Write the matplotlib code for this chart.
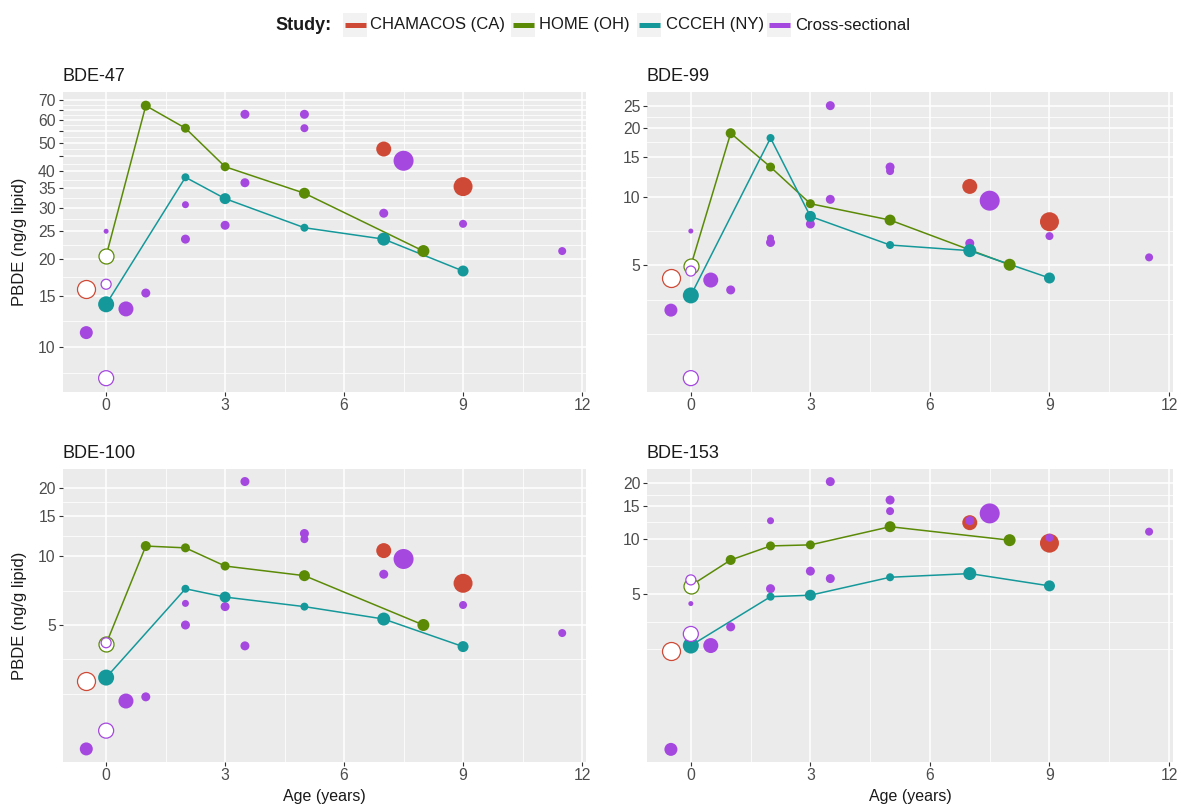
import numpy as np
import matplotlib
matplotlib.use("Agg")
import matplotlib.pyplot as plt
from matplotlib.patches import Rectangle
from matplotlib.lines import Line2D
from matplotlib.ticker import NullFormatter, FixedLocator

plt.rcParams['font.family'] = ['Liberation Sans', 'DejaVu Sans']

# ---------------- data ----------------
congeners = ["BDE-47", "BDE-99", "BDE-100", "BDE-153"]
studies = ["CHAMACOS (CA)", "HOME (OH)", "CCCEH (NY)", "Cross-sectional"]

# CHAMACOS (CA)
cham_age = [-0.5, 7, 9]
cham_open = [True, False, False]
cham_size = [18, 15, 19]
cham_vals = {
    "BDE-47": [15.8, 47.6, 35.4],
    "BDE-99": [4.40, 11.1, 7.77],
    "BDE-100": [2.85, 10.6, 7.62],
    "BDE-153": [2.44, 12.2, 9.44],
}

# HOME (OH)
home_age = [0, 1, 2, 3, 5, 8]
home_open = [True, False, False, False, False, False]
home_size = [15, 10, 9, 9, 11, 12]
home_vals = {
    "BDE-47": [20.5, 67.0, 56.1, 41.4, 33.6, 21.3],
    "BDE-99": [4.98, 19.0, 13.5, 9.32, 7.90, 5.03],
    "BDE-100": [4.13, 11.1, 10.9, 9.07, 8.23, 5.0],
    "BDE-153": [5.55, 7.65, 9.12, 9.24, 11.6, 9.80],
}

# CCCEH (NY)
ccceh_age = [0, 2, 3, 5, 7, 9]
ccceh_open = [False, False, False, False, False, False]
ccceh_size = [16, 8, 11, 8, 13, 11]
ccceh_vals = {
    "BDE-47": [14.0, 38.1, 32.2, 25.6, 23.4, 18.2],
    "BDE-99": [3.69, 18.1, 8.20, 6.14, 5.80, 4.40],
    "BDE-100": [2.94, 7.21, 6.63, 6.02, 5.31, 4.02],
    "BDE-153": [2.62, 4.83, 4.92, 6.16, 6.45, 5.53],
}

# Cross-sectional
cs_age = [-0.5, 0, 0, 0, 0.5, 1, 2, 2, 3, 3.5, 3.5, 5, 5, 7, 7.5, 9, 11.5]
cs_open = [False, True, True, False, False, False, False, False, False,
           False, False, False, False, False, False, False, False]
cs_size = [13, 10, 15, 5, 15, 9, 7, 9, 9, 9, 9, 9, 8, 9, 20, 8, 8]
cs_vals = {
    "BDE-47": [11.2, 16.4, 7.82, 24.9, 13.5, 15.3, 30.7, 23.4, 26.1,
               62.6, 36.5, 62.6, 56.1, 28.7, 43.4, 26.4, 21.3],
    "BDE-99": [3.18, 4.72, 1.60, 7.07, 4.31, 3.90, 6.59, 6.30, 7.59,
               25.1, 9.74, 13.5, 12.96, 6.25, 9.61, 6.72, 5.42],
    "BDE-100": [1.43, 4.18, 1.72, np.nan, 2.32, 2.42, 6.22, 5.0, 6.02,
                21.3, 4.05, 12.6, 11.9, 8.35, 9.74, 6.12, 4.61],
    "BDE-153": [0.714, 5.96, 3.03, 4.43, 2.62, 3.31, 12.5, 5.34, 6.65,
                20.4, 6.06, 16.2, 14.1, 12.5, 13.7, 10.1, 10.9],
}

# axis breaks
x_breaks = [0, 3, 6, 9, 12]
y_breaks = {
    "BDE-47": [10, 15, 20, 25, 30, 35, 40, 45, 50, 55, 60, 65, 70],
    "BDE-99": [5, 10, 15, 20, 25],
    "BDE-100": [5, 10, 15, 20],
    "BDE-153": [5, 10, 15, 20],
}
y_labels = {
    "BDE-47": ["10", "15", "20", "25", "30", "35", "40", "", "50", "", "60", "", "70"],
    "BDE-99": ["5", "10", "15", "20", "25"],
    "BDE-100": ["5", "10", "15", "20"],
    "BDE-153": ["5", "10", "15", "20"],
}
y_limits = {
    "BDE-47": (7.03, 74.8),
    "BDE-99": (1.395, 28.9),
    "BDE-100": (1.257, 24.1),
    "BDE-153": (0.612, 23.8),
}

# ---------------- style ----------------
col = {"CHAMACOS (CA)": "#CF4A36", "HOME (OH)": "#5B8A06",
       "CCCEH (NY)": "#15989A", "Cross-sectional": "#A548DF"}

W, H = 1181, 806
DPI = 100
fig = plt.figure(figsize=(W / DPI, H / DPI), dpi=DPI, facecolor="white")

def fx(x):
    return x / W

def fy(y):
    return 1 - y / H

panel_px = {
    "BDE-47": (62.5, 586, 91.7, 391.7),
    "BDE-99": (647, 1173, 91.7, 391.7),
    "BDE-100": (62.5, 586, 469.3, 761.7),
    "BDE-153": (647, 1173, 469.3, 761.7),
}

def minor_breaks_log(breaks, lo, hi):
    b = list(np.log10(breaks))
    bd = b[1] - b[0]
    if np.log10(lo) < b[0]:
        b = [b[0] - bd] + b
    if np.log10(hi) > b[-1]:
        b = b + [b[-1] + bd]
    out = []
    for a, c in zip(b[:-1], b[1:]):
        out += [a, (a + c) / 2]
    out.append(b[-1])
    return [10 ** v for v in out]

def sz(d):
    return (d * 72.0 / DPI) ** 2

series = [
    ("CHAMACOS (CA)", cham_age, cham_open, cham_size, cham_vals, False),
    ("Cross-sectional", cs_age, cs_open, cs_size, cs_vals, False),
    ("HOME (OH)", home_age, home_open, home_size, home_vals, True),
    ("CCCEH (NY)", ccceh_age, ccceh_open, ccceh_size, ccceh_vals, True),
]
open_order = [series[0], series[2], series[3], series[1]]

for cg in congeners:
    l, r, t, b = panel_px[cg]
    ax = fig.add_axes([fx(l), fy(b), (r - l) / W, (b - t) / H])
    ax.set_facecolor("#EBEBEB")
    for s in ax.spines.values():
        s.set_visible(False)
    ax.set_yscale("log")
    lo, hi = y_limits[cg]
    ax.set_xlim(-1.1, 12.1)
    ax.set_ylim(lo, hi)

    ax.set_xticks(x_breaks)
    ax.set_xticklabels([str(v) for v in x_breaks])
    ax.xaxis.set_minor_locator(FixedLocator([-1.5, 1.5, 4.5, 7.5, 10.5]))
    ax.set_yticks(y_breaks[cg])
    ax.set_yticklabels(y_labels[cg])
    ax.yaxis.set_minor_locator(FixedLocator(minor_breaks_log(y_breaks[cg], lo, hi)))
    ax.yaxis.set_minor_formatter(NullFormatter())
    ax.xaxis.set_minor_formatter(NullFormatter())

    ax.tick_params(axis="both", which="major", length=2.6, width=0.8,
                   color="#333333", labelsize=11.3, labelcolor="#4D4D4D", pad=2.2)
    ax.tick_params(axis="both", which="minor", length=0)
    ax.set_axisbelow(True)
    ax.grid(which="minor", color="white", lw=0.55)
    ax.grid(which="major", color="white", lw=1.1)

    # lines
    for name, ages, opens, sizes, vals, has_line in series:
        if has_line:
            ax.plot(ages, vals[cg], color=col[name], lw=1.1, zorder=2,
                    solid_capstyle="round")
    # filled points
    for name, ages, opens, sizes, vals, has_line in series:
        a = np.array(ages, float)
        v = np.array(vals[cg], float)
        o = np.array(opens)
        sarr = np.array([sz(d) for d in sizes])
        m = (~o) & ~np.isnan(v)
        ax.scatter(a[m], v[m], s=sarr[m], color=col[name], edgecolors="none",
                   zorder=3)
    # open points
    for name, ages, opens, sizes, vals, has_line in open_order:
        a = np.array(ages, float)
        v = np.array(vals[cg], float)
        o = np.array(opens)
        sarr = np.array([sz(d) for d in sizes])
        m = o & ~np.isnan(v)
        if m.any():
            ax.scatter(a[m], v[m], s=sarr[m], facecolors="white",
                       edgecolors=col[name], linewidths=0.9, zorder=4)

    fig.text(fx(l), fy(t - 15.5), cg, fontsize=13, color="#1A1A1A",
             ha="left", va="center")

# axis titles
for yc in [(91.7 + 391.7) / 2, (469.3 + 761.7) / 2]:
    fig.text(fx(20), fy(yc), "PBDE (ng/g lipid)", rotation=90, fontsize=12,
             ha="center", va="center", color="#1A1A1A")
for l, r in [(62.5, 586), (647, 1173)]:
    fig.text(fx((l + r) / 2), fy(797), "Age (years)", fontsize=11.5,
             ha="center", va="center", color="#1A1A1A")

# legend
ly = 25
fig.text(fx(275), fy(ly), "Study:", fontsize=13, fontweight="bold",
         ha="left", va="center", color="#1A1A1A")
key_x = [344, 512, 638, 768]
text_x = [370, 539, 666, 795]
for name, kx, tx in zip(studies, key_x, text_x):
    fig.patches.append(Rectangle((fx(kx - 1), fy(ly + 12)), 24 / W, 24 / H,
                                 transform=fig.transFigure, facecolor="#F2F2F2",
                                 edgecolor="none"))
    fig.lines.append(Line2D([fx(kx + 0.5), fx(kx + 21.5)], [fy(ly), fy(ly)],
                            transform=fig.transFigure, color=col[name],
                            lw=3.6, solid_capstyle="butt"))
    fig.text(fx(tx), fy(ly), name, fontsize=12, ha="left", va="center",
             color="#1A1A1A")

fig.savefig("out.png", dpi=DPI, facecolor="white")
